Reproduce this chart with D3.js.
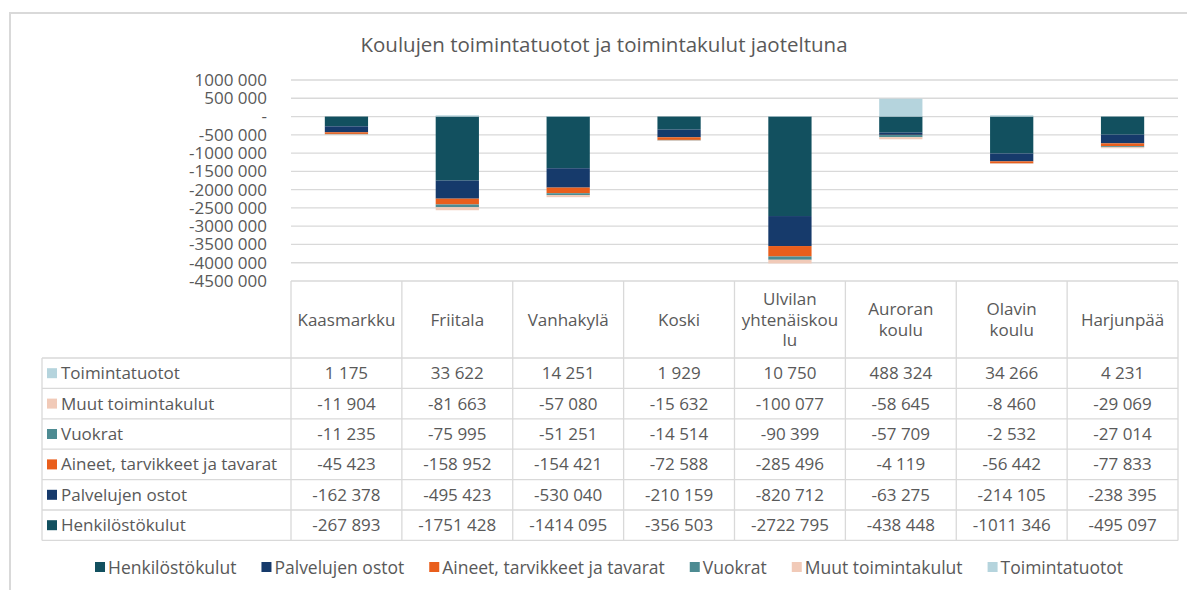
<!DOCTYPE html>
<html>
<head>
<meta charset="utf-8">
<script src="https://cdn.jsdelivr.net/npm/d3@7"></script>
<style>
  html, body { margin: 0; padding: 0; background: #fff; }
  svg { display: block; font-family: "Open Sans", "Noto Sans", sans-serif; }
</style>
</head>
<body>
<div id="chart"></div>
<script>
// ---- data ----
const schools = ["Kaasmarkku", "Friitala", "Vanhakylä", "Koski", "Ulvilan yhtenäiskoulu", "Auroran koulu", "Olavin koulu", "Harjunpää"];
const schoolHeader = [["Kaasmarkku"], ["Friitala"], ["Vanhakylä"], ["Koski"], ["Ulvilan", "yhtenäiskou", "lu"], ["Auroran", "koulu"], ["Olavin", "koulu"], ["Harjunpää"]];

const henkilostokulut = [-267893, -1751428, -1414095, -356503, -2722795, -438448, -1011346, -495097];
const palvelujenOstot = [-162378, -495423, -530040, -210159, -820712, -63275, -214105, -238395];
const aineet          = [-45423, -158952, -154421, -72588, -285496, -4119, -56442, -77833];
const vuokrat         = [-11235, -75995, -51251, -14514, -90399, -57709, -2532, -27014];
const muutKulut       = [-11904, -81663, -57080, -15632, -100077, -58645, -8460, -29069];
const toimintatuotot  = [1175, 33622, 14251, 1929, 10750, 488324, 34266, 4231];

const yTicks = [1000000, 500000, 0, -500000, -1000000, -1500000, -2000000, -2500000, -3000000, -3500000, -4000000, -4500000];

const series = [
  { name: "Henkilöstökulut", values: henkilostokulut, color: "#12505f" },
  { name: "Palvelujen ostot", values: palvelujenOstot, color: "#163a6b" },
  { name: "Aineet, tarvikkeet ja tavarat", values: aineet, color: "#e95e1c" },
  { name: "Vuokrat", values: vuokrat, color: "#4d8b92" },
  { name: "Muut toimintakulut", values: muutKulut, color: "#f1cab8" },
  { name: "Toimintatuotot", values: toimintatuotot, color: "#b5d4dd" }
];
// table row order (top -> bottom)
const tableOrder = ["Toimintatuotot", "Muut toimintakulut", "Vuokrat", "Aineet, tarvikkeet ja tavarat", "Palvelujen ostot", "Henkilöstökulut"];

// ---- layout ----
const W = 1187, H = 590;
const plotLeft = 291, plotRight = 1178;
const tableLeft = 42;
const headerTop = 281, headerBottom = 358, rowH = 30.4;
const textColor = "#595959", gridColor = "#d9d9d9";

// number format like "-1751 428"
function fmt(v) {
  if (v === 0) return "-";
  const s = Math.abs(Math.round(v)).toString();
  const out = s.length > 3 ? s.slice(0, -3) + " " + s.slice(-3) : s;
  return (v < 0 ? "-" : "") + out;
}

const svg = d3.select("#chart").append("svg")
  .attr("width", W).attr("height", H);

// outer chart frame
svg.append("rect")
  .attr("x", 10).attr("y", 13)
  .attr("width", W + 20).attr("height", H + 20)
  .attr("fill", "none").attr("stroke", gridColor).attr("stroke-width", 2);

svg.append("text")
  .attr("x", 604).attr("y", 52)
  .attr("text-anchor", "middle")
  .attr("fill", textColor)
  .style("font-size", "20.5px")
  .text("Koulujen toimintatuotot ja toimintakulut jaoteltuna");

const x = d3.scaleBand()
  .domain(schools)
  .range([plotLeft, plotRight])
  .paddingInner(0.61)
  .paddingOuter(0.305);

const y = d3.scaleLinear()
  .domain([1000000, -4500000])
  .range([80, 281]);

// gridlines
svg.append("g")
  .selectAll("line")
  .data(yTicks.filter(t => t !== -4500000))
  .join("line")
  .attr("x1", plotLeft).attr("x2", plotRight)
  .attr("y1", d => y(d)).attr("y2", d => y(d))
  .attr("stroke", gridColor).attr("stroke-width", 1.3);

// y axis labels
const yAxis = svg.append("g")
  .attr("transform", `translate(${plotLeft - 24},0)`)
  .call(d3.axisLeft(y).tickValues(yTicks).tickFormat(fmt).tickSize(0).tickPadding(0));
yAxis.select(".domain").remove();
yAxis.selectAll("text")
  .attr("fill", textColor)
  .style("font-size", "17px")
  .style("font-family", "'Open Sans', sans-serif");

// stacked bars
const keys = series.map(s => s.name);
const rows = schools.map((sc, i) => {
  const r = { school: sc };
  series.forEach(s => { r[s.name] = s.values[i]; });
  return r;
});
const stacked = d3.stack().keys(keys).offset(d3.stackOffsetDiverging)(rows);
const colorOf = d3.scaleOrdinal().domain(keys).range(series.map(s => s.color));

svg.append("g")
  .selectAll("g")
  .data(stacked)
  .join("g")
  .attr("fill", d => colorOf(d.key))
  .selectAll("rect")
  .data(d => d)
  .join("rect")
  .attr("x", d => x(d.data.school))
  .attr("width", x.bandwidth())
  .attr("y", d => y(Math.max(d[0], d[1])))
  .attr("height", d => Math.abs(y(d[0]) - y(d[1])));

// ---- data table ----
const colW = (plotRight - plotLeft) / schools.length;
const colX = i => plotLeft + i * colW;
const tbl = svg.append("g");
const tableBottom = headerBottom + rowH * tableOrder.length;
const cellFont = "17px";

// header horizontal lines
tbl.append("line")
  .attr("x1", plotLeft).attr("x2", plotRight)
  .attr("y1", headerTop).attr("y2", headerTop)
  .attr("stroke", gridColor).attr("stroke-width", 1.3);
// row lines
d3.range(tableOrder.length + 1).forEach(k => {
  const yy = headerBottom + k * rowH;
  tbl.append("line")
    .attr("x1", tableLeft).attr("x2", plotRight)
    .attr("y1", yy).attr("y2", yy)
    .attr("stroke", gridColor).attr("stroke-width", 1.3);
});
// vertical lines
tbl.append("line")
  .attr("x1", tableLeft).attr("x2", tableLeft)
  .attr("y1", headerBottom).attr("y2", tableBottom)
  .attr("stroke", gridColor).attr("stroke-width", 1.3);
d3.range(schools.length + 1).forEach(i => {
  tbl.append("line")
    .attr("x1", colX(i)).attr("x2", colX(i))
    .attr("y1", headerTop).attr("y2", tableBottom)
    .attr("stroke", gridColor).attr("stroke-width", 1.3);
});

// header labels
schoolHeader.forEach((lines, i) => {
  const cx = colX(i) + colW / 2;
  const cy = (headerTop + headerBottom) / 2;
  const lh = 20.5;
  const t = tbl.append("text")
    .attr("text-anchor", "middle")
    .attr("fill", textColor)
    .style("font-size", cellFont);
  lines.forEach((ln, j) => {
    t.append("tspan")
      .attr("x", cx)
      .attr("y", cy + (j - (lines.length - 1) / 2) * lh + 6)
      .text(ln);
  });
});

// rows
tableOrder.forEach((name, r) => {
  const s = series.find(d => d.name === name);
  const cy = headerBottom + r * rowH + rowH / 2;
  tbl.append("rect")
    .attr("x", tableLeft + 5).attr("y", cy - 5)
    .attr("width", 10).attr("height", 10)
    .attr("fill", s.color);
  tbl.append("text")
    .attr("x", tableLeft + 19).attr("y", cy + 6)
    .attr("fill", textColor)
    .style("font-size", cellFont)
    .text(name);
  s.values.forEach((v, i) => {
    tbl.append("text")
      .attr("x", colX(i) + colW / 2).attr("y", cy + 6)
      .attr("text-anchor", "middle")
      .attr("fill", textColor)
      .style("font-size", cellFont)
      .text(fmt(v));
  });
});

// ---- legend ----
const legend = svg.append("g").attr("transform", "translate(0,568)");
const items = legend.selectAll("g")
  .data(series)
  .join("g");
items.append("rect")
  .attr("x", 0).attr("y", -6)
  .attr("width", 10).attr("height", 10)
  .attr("fill", d => d.color);
items.append("text")
  .attr("x", 13).attr("y", 6)
  .attr("fill", textColor)
  .style("font-size", "17.5px")
  .text(d => d.name);
const gap = 25;
const widths = items.nodes().map(n => 13 + n.querySelector("text").getComputedTextLength());
const total = d3.sum(widths) + gap * (widths.length - 1);
let lx = (95 + 1123) / 2 - total / 2;
items.each(function (d, i) {
  d3.select(this).attr("transform", `translate(${lx},0)`);
  lx += widths[i] + gap;
});
</script>
</body>
</html>
